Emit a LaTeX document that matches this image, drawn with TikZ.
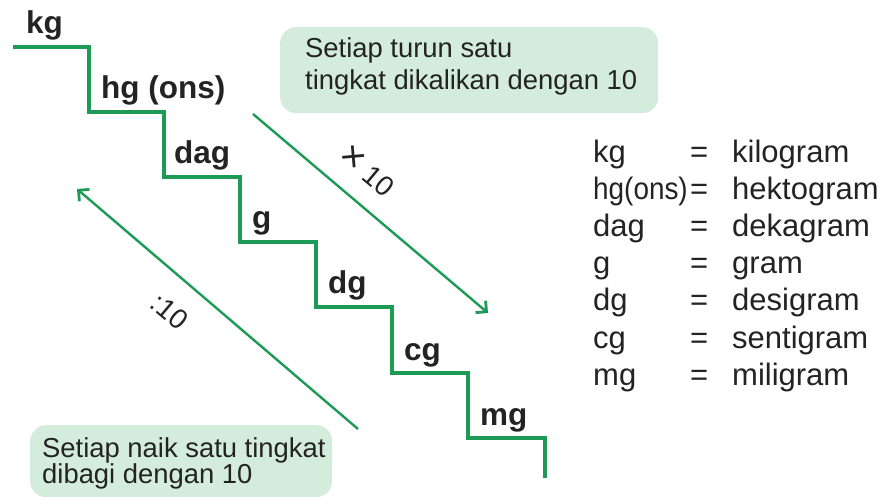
\documentclass[tikz,border=0pt]{standalone}
\usepackage{fontspec}
\setmainfont{Liberation Sans}
\usepackage{graphicx}
\usetikzlibrary{arrows.meta}
\definecolor{stair}{RGB}{28,154,86}
\definecolor{boxfill}{RGB}{212,236,219}
\definecolor{txt}{RGB}{35,35,35}
\begin{document}
\begin{tikzpicture}[x=1pt,y=-1pt,
  stairline/.style={draw=stair, line width=3.8pt, line join=miter},
  arr/.style={draw=stair, line width=2.4pt, -{Straight Barb[angle=90:11pt, line width=2.8pt]}},
  lbl/.style={anchor=base west, inner sep=0pt, font=\fontsize{31.5}{31.5}\selectfont\bfseries, text=txt},
  boxtxt/.style={anchor=base west, inner sep=0pt, font=\fontsize{27.4}{27.4}\selectfont, text=txt},
  tbl/.style={anchor=base west, inner sep=0pt, font=\fontsize{31}{31}\selectfont, text=txt},
  greenbox/.style={fill=boxfill, rounded corners=16pt, draw=none, inner sep=0pt},
  rotlbl/.style={inner sep=0pt, rotate=-40, font=\fontsize{28}{28}\selectfont, text=txt}]
\useasboundingbox (0,0) rectangle (884,497);
% green boxes
\node[greenbox, minimum width=378pt, minimum height=86pt, anchor=north west] (topbox) at (280,27) {};
\node[greenbox, minimum width=302pt, minimum height=72pt, anchor=north west] (botbox) at (30,425) {};
\node[boxtxt] (t1) at (305,58) {Setiap turun satu};
\node[boxtxt] (t2) at (305,90) {tingkat dikalikan dengan 10};
\node[boxtxt] (b1) at (42,457) {Setiap naik satu tingkat};
\node[boxtxt] (b2) at (42,483) {dibagi dengan 10};
% staircase
\draw[stairline] (13,47) -| (89,112) -| (164,177) -| (240,242) -| (316,307) -| (392,373) -| (468,438) -| (545,478);
\node[lbl] (kg) at (26,34) {kg};
\node[lbl] (hg) at (101,99) {hg (ons)};
\node[lbl] (dag) at (174,164) {dag};
\node[lbl] (g) at (252,229) {g};
\node[lbl] (dg) at (328,294) {dg};
\node[lbl] (cg) at (404,360) {cg};
\node[lbl] (mg) at (480,425) {mg};
% arrows
\coordinate (a1s) at (253,114);
\coordinate (a1e) at (488,313);
\coordinate (a2s) at (358,429);
\coordinate (a2e) at (77,189);
\draw[arr] (a1s) -- (a1e);
\draw[arr] (a2s) -- (a2e);
\node[rotlbl] (x10) at (367,171) {\raisebox{-0.05em}{\scalebox{1.4}{×}} 10};
\node[rotlbl] (d10) at (170,312) {:10};
% table
\foreach \i/\a/\b in {0/kg/kilogram, 2/dag/dekagram, 3/g/gram, 4/dg/desigram, 5/cg/sentigram, 6/mg/miligram}{
  \node[tbl] (l\i) at (593,163+37*\i) {\a};
  \node[tbl] (e\i) at (690,163+37*\i) {=};
  \node[tbl] (r\i) at (732,163+37*\i) {\b};
}
\node[tbl] (l1) at (593,200) {\scalebox{0.9}[1]{hg(ons)}};
\node[tbl] (e1) at (690,200) {=};
\node[tbl] (r1) at (732,200) {hektogram};
\end{tikzpicture}
\end{document}
